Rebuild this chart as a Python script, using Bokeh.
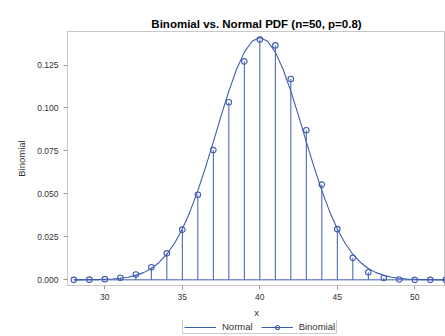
from bokeh.plotting import figure
from bokeh.layouts import column
from bokeh.models import Range1d, Legend, LegendItem, FixedTicker
from bokeh.embed import file_html
from bokeh.resources import INLINE

# Binomial PMF values (n=50, p=0.8)
binom_x = [28, 29, 30, 31, 32, 33, 34, 35, 36, 37, 38, 39, 40,
           41, 42, 43, 44, 45, 46, 47, 48, 49, 50, 51, 52]
binom_y = [0.0000, 0.0001, 0.0004, 0.0012, 0.0031, 0.0073, 0.0154, 0.0292,
           0.0495, 0.0755, 0.1033, 0.1271, 0.1398, 0.1364, 0.1169, 0.0870,
           0.0554, 0.0295, 0.0128, 0.0044, 0.0011, 0.0002, 0.0000, 0.0000, 0.0000]

# Normal curve
norm_x = [28, 28.5, 29, 29.5, 30, 30.5, 31, 31.5, 32, 32.5, 33, 33.5, 34, 34.5,
          35, 35.5, 36, 36.5, 37, 37.5, 38, 38.5, 39, 39.5, 40, 40.5, 41, 41.5,
          42, 42.5, 43, 43.5, 44, 44.5, 45, 45.5, 46, 46.5, 47, 47.5, 48, 48.5,
          49, 49.5, 50, 50.5, 51, 51.5, 52]
norm_y = [0.0000, 0.0000, 0.0001, 0.0001, 0.0003, 0.0005, 0.0009, 0.0015,
          0.0026, 0.0042, 0.0066, 0.0101, 0.0149, 0.0213, 0.0296, 0.0398,
          0.0519, 0.0656, 0.0803, 0.0954, 0.1098, 0.1225, 0.1325, 0.1388,
          0.1410, 0.1388, 0.1325, 0.1225, 0.1098, 0.0954, 0.0803, 0.0656,
          0.0519, 0.0398, 0.0296, 0.0213, 0.0149, 0.0101, 0.0066, 0.0042,
          0.0026, 0.0015, 0.0009, 0.0005, 0.0003, 0.0001, 0.0001, 0.0000, 0.0000]

x_ticks = [30, 35, 40, 45, 50]
y_ticks = [0.0, 0.025, 0.05, 0.075, 0.1, 0.125]
series_names = ["Normal", "Binomial"]

BLUE = "#3d5cb0"
FONT = "Liberation Sans"

p = figure(width=445, height=320, output_backend="svg", toolbar_location=None,
           x_range=Range1d(27.59, 51.98), y_range=Range1d(-0.0033, 0.1445),
           min_border_left=67, min_border_right=0, min_border_top=31,
           min_border_bottom=34,
           title="Binomial vs. Normal PDF (n=50, p=0.8)")

p.title.align = "center"
p.title.text_font = FONT
p.title.text_font_size = "11.5px"
p.title.text_font_style = "bold"
p.title.text_color = "#000000"
p.title.standoff = 4
p.title.offset = 0

p.xgrid.visible = False
p.ygrid.visible = False
p.outline_line_color = "#c8c8c8"
p.background_fill_color = "white"
p.border_fill_color = "white"

for ax in (p.xaxis[0], p.yaxis[0]):
    ax.axis_line_color = "#c8c8c8"
    ax.major_tick_line_color = "#9a9a9a"
    ax.minor_tick_line_color = None
    ax.major_tick_out = 4
    ax.major_tick_in = 0
    ax.major_label_text_font = FONT
    ax.major_label_text_font_size = "8.5px"
    ax.major_label_text_color = "#333333"
    ax.axis_label_text_font = FONT
    ax.axis_label_text_font_size = "9.5px"
    ax.axis_label_text_font_style = "normal"
    ax.axis_label_text_color = "#333333"

p.xaxis.ticker = FixedTicker(ticks=x_ticks)
p.yaxis.ticker = FixedTicker(ticks=y_ticks)
p.yaxis.major_label_overrides = {t: f"{t:.3f}" for t in y_ticks}
p.xaxis.major_label_standoff = 4
p.yaxis.major_label_standoff = 5
p.xaxis.axis_label = "x"
p.yaxis.axis_label = "Binomial"
p.xaxis.axis_label_standoff = 4
p.yaxis.axis_label_standoff = 7

# needles
p.segment(x0=binom_x, y0=[0] * len(binom_x), x1=binom_x, y1=binom_y,
          line_color=BLUE, line_width=1)
# baseline of needles
p.line(x=[min(binom_x), max(binom_x)], y=[0, 0], line_color=BLUE, line_width=1)
# normal curve
p.line(norm_x, norm_y, line_color=BLUE, line_width=1.1)
# binomial markers
p.scatter(binom_x, binom_y, marker="circle", size=5.5, fill_color=None,
          line_color=BLUE, line_width=1.1)

# legend strip below the chart (its renderers hold the same series, outside its view)
lg = figure(width=445, height=16, output_backend="svg", toolbar_location=None,
            x_range=Range1d(0, 1), y_range=Range1d(0, 1),
            x_axis_location=None, y_axis_location=None,
            min_border_left=0, min_border_right=0, min_border_top=0,
            min_border_bottom=0)
lg.xgrid.visible = False
lg.ygrid.visible = False
lg.outline_line_color = None
lg.border_fill_color = "white"
n_line = lg.line(x=norm_x, y=norm_y, line_color=BLUE, line_width=1.1)
b_line = lg.line(x=binom_x, y=binom_y, line_color=BLUE, line_width=1)
b_mark = lg.scatter(x=binom_x, y=binom_y, marker="circle", size=5.5,
                    fill_color=None, line_color=BLUE, line_width=1.1)

legend = Legend(items=[LegendItem(label=series_names[0], renderers=[n_line]),
                       LegendItem(label=series_names[1], renderers=[b_line, b_mark])],
                location=(115, 2), orientation="horizontal")
legend.label_text_font = FONT
legend.label_text_font_size = "9.5px"
legend.label_text_color = "#333333"
legend.glyph_width = 32
legend.glyph_height = 10
legend.label_standoff = 6
legend.spacing = 8
legend.padding = 1
legend.margin = 0
legend.border_line_color = "#9a9a9a"
legend.label_height = 10
legend.background_fill_alpha = 1.0
lg.add_layout(legend)

layout = column(p, lg, spacing=0)
open("out.html", "w").write(file_html(layout, INLINE))
